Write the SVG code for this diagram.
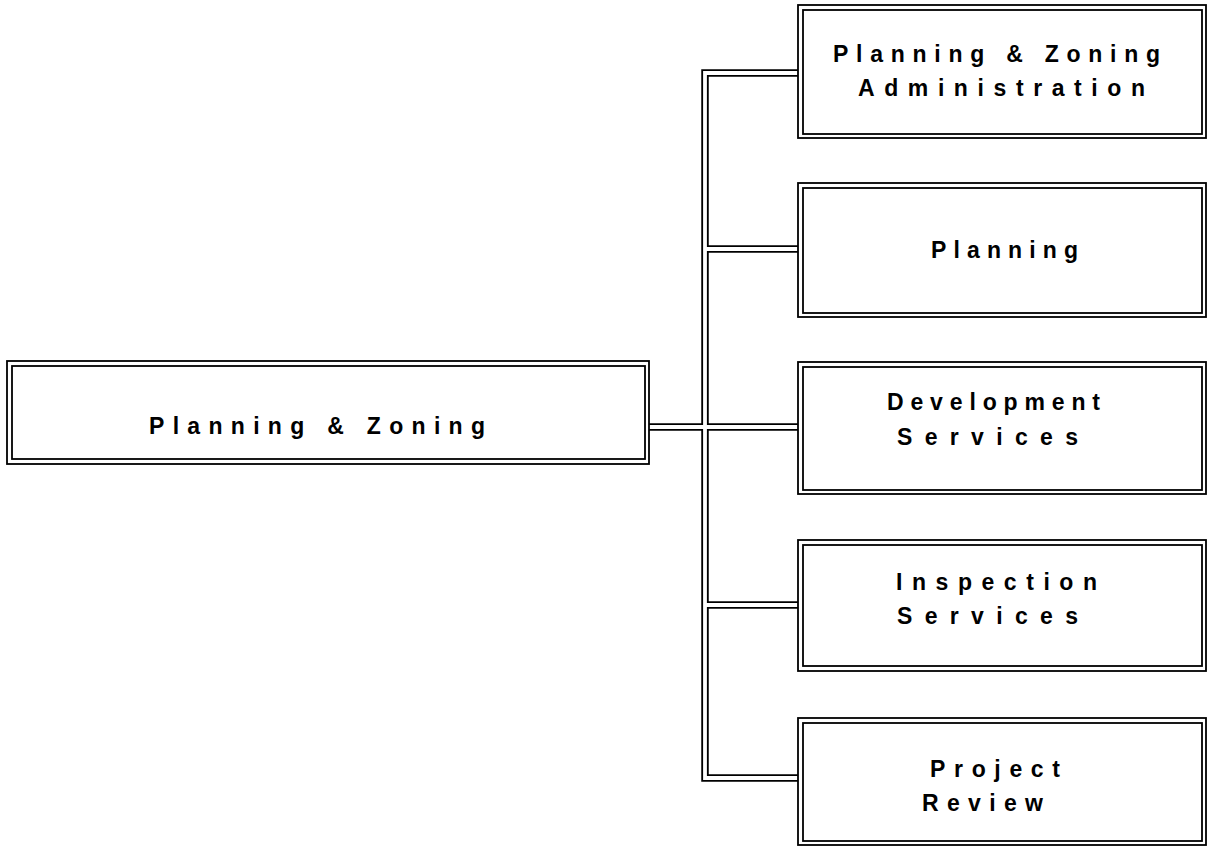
<svg xmlns="http://www.w3.org/2000/svg" width="1207" height="846" viewBox="0 0 1207 846">
<style>
.bg{fill:#ffffff}
.o{fill:#ffffff;stroke:#000;stroke-width:1.8}
.i{fill:none;stroke:#000;stroke-width:1.8}
.cb{fill:none;stroke:#000;stroke-width:7.5;stroke-linejoin:miter}
.cw{fill:none;stroke:#fff;stroke-width:3.8;stroke-linejoin:miter}
.t{font-family:"Liberation Sans",Arial,sans-serif;font-weight:bold;font-size:23px;fill:#000}
</style>
<rect class="bg" x="0" y="0" width="1207" height="846"/>
<g id="connectors">
<path class="cb" d="M798 73 H705 V778 H798"/>
<path class="cb" d="M705 249 H798"/>
<path class="cb" d="M649 427 H798"/>
<path class="cb" d="M705 605 H798"/>
<path class="cw" d="M798 73 H705 V778 H798"/>
<path class="cw" d="M705 249 H798"/>
<path class="cw" d="M649 427 H798"/>
<path class="cw" d="M705 605 H798"/>
</g>
<g id="root">
<rect class="o" x="7" y="361" width="642" height="103"/>
<rect class="i" x="12" y="366" width="633" height="93"/>
<text class="t" x="149" y="434" textLength="336" lengthAdjust="spacing">Planning &amp; Zoning</text>
</g>
<g id="admin">
<rect class="o" x="798" y="5" width="408" height="133"/>
<rect class="i" x="803" y="10" width="399" height="124"/>
<text class="t" x="833" y="62" textLength="327" lengthAdjust="spacing">Planning &amp; Zoning</text>
<text class="t" x="858" y="96" textLength="287" lengthAdjust="spacing">Administration</text>
</g>
<g id="planning">
<rect class="o" x="798" y="183" width="408" height="134"/>
<rect class="i" x="803" y="188" width="399" height="125"/>
<text class="t" x="931" y="258" textLength="147" lengthAdjust="spacing">Planning</text>
</g>
<g id="development">
<rect class="o" x="798" y="362" width="408" height="132"/>
<rect class="i" x="803" y="367" width="399" height="123"/>
<text class="t" x="887" y="410" textLength="213" lengthAdjust="spacing">Development</text>
<text class="t" x="897" y="445" textLength="181" lengthAdjust="spacing">Services</text>
</g>
<g id="inspection">
<rect class="o" x="798" y="540" width="408" height="131"/>
<rect class="i" x="803" y="545" width="399" height="121"/>
<text class="t" x="896" y="590" textLength="201" lengthAdjust="spacing">Inspection</text>
<text class="t" x="897" y="624" textLength="181" lengthAdjust="spacing">Services</text>
</g>
<g id="project">
<rect class="o" x="798" y="718" width="408" height="127"/>
<rect class="i" x="803" y="723" width="399" height="118"/>
<text class="t" x="930" y="777" textLength="130" lengthAdjust="spacing">Project</text>
<text class="t" x="922" y="811" textLength="121" lengthAdjust="spacing">Review</text>
</g>
</svg>
